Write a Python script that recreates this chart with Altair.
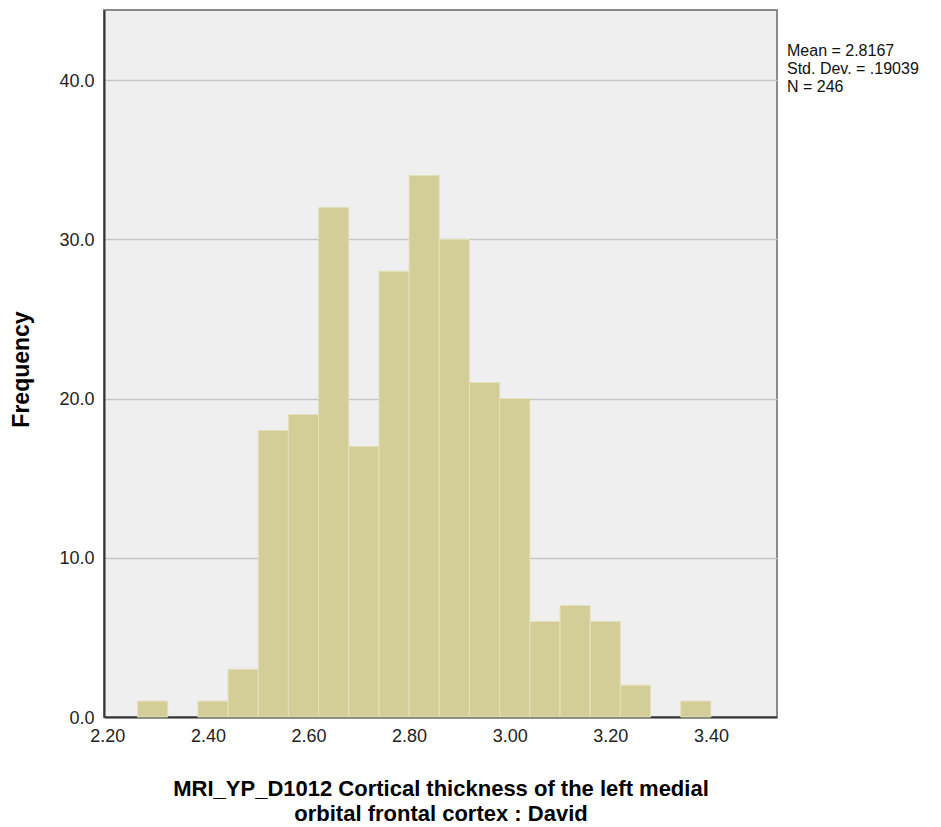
import altair as alt
import pandas as pd

bin_lo = [2.26, 2.32, 2.38, 2.44, 2.50, 2.56, 2.62, 2.68, 2.74, 2.80,
          2.86, 2.92, 2.98, 3.04, 3.10, 3.16, 3.22, 3.28, 3.34]
bin_hi = [2.32, 2.38, 2.44, 2.50, 2.56, 2.62, 2.68, 2.74, 2.80, 2.86,
          2.92, 2.98, 3.04, 3.10, 3.16, 3.22, 3.28, 3.34, 3.40]
counts = [1, 0, 1, 3, 18, 19, 32, 17, 28, 34, 30, 21, 20, 6, 7, 6, 2, 0, 1]

x_ticks = [2.2, 2.4, 2.6, 2.8, 3.0, 3.2, 3.4]
y_ticks = [0, 10, 20, 30, 40]
stats_lines = ["Mean = 2.8167", "Std. Dev. = .19039", "N = 246"]
x_title = ["MRI_YP_D1012 Cortical thickness of the left medial",
           "orbital frontal cortex : David"]

df = pd.DataFrame({"lo": bin_lo, "hi": bin_hi, "n": counts})
stats_df = pd.DataFrame({"label": ["\n".join(stats_lines)]})

FONT = "Liberation Sans"

bars = alt.Chart(df).transform_filter("datum.n > 0").mark_bar(
    color="#d3ce97", stroke="#e4e1bd", strokeWidth=1
).encode(
    x=alt.X("lo:Q",
            scale=alt.Scale(domain=[2.1934, 3.5314], nice=False, zero=False),
            axis=alt.Axis(values=x_ticks, format=".2f", title=x_title,
                          grid=False, ticks=False, labelPadding=10,
                          labelFontSize=18, labelColor="#222",
                          titleFontSize=22, titleFontWeight="bold",
                          titleColor="#000", titleLineHeight=25,
                          titleBaseline="alphabetic", titleY=78,
                          domainColor="#333", domainWidth=2)),
    x2="hi:Q",
    y=alt.Y("n:Q",
            scale=alt.Scale(domain=[0, 44.4], nice=False),
            axis=alt.Axis(values=y_ticks, format=".1f", title="Frequency",
                          grid=True, gridColor="#c6c6c6", gridWidth=1.5,
                          ticks=False, labelPadding=10, labelOffset=1,
                          labelFontSize=18, labelColor="#222",
                          titleFontSize=23, titleFontWeight="bold",
                          titleColor="#000", titleAngle=-90,
                          titleBaseline="alphabetic", titleAlign="center",
                          titleX=-76, titleY=359,
                          domainColor="#333", domainWidth=2)),
    y2=alt.datum(0),
)

stats = alt.Chart(stats_df).mark_text(
    align="left", baseline="top", fontSize=16,
    lineHeight=18, font=FONT, color="#111", lineBreak="\n"
).encode(text="label:N", x=alt.value(683), y=alt.value(33))

chart = alt.layer(bars, stats).properties(
    width=673, height=707,
    autosize=alt.AutoSizeParams(type="none"),
    padding={"left": 96, "top": 2, "right": 150, "bottom": 110},
).configure(
    font=FONT
).configure_view(
    fill="#efefef", stroke="#8a8a8a", strokeWidth=2
).configure_axis(
    labelFont=FONT, titleFont=FONT
)

chart.save("out.html", embed_options={"renderer": "svg", "actions": False})
